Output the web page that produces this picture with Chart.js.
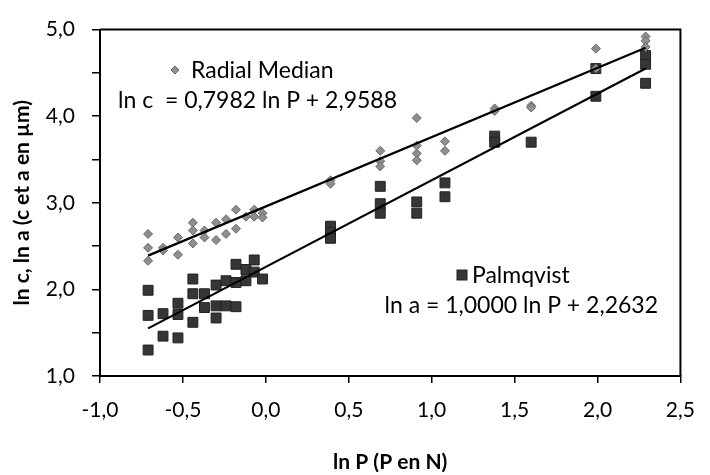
<!DOCTYPE html>
<html>
<head>
<meta charset="utf-8">
<script src="https://cdn.jsdelivr.net/npm/chart.js@4.4.0/dist/chart.umd.min.js"></script>
<style>
  html, body { margin: 0; padding: 0; background: #fff; }
  #wrap { width: 710px; height: 475px; }
</style>
</head>
<body>
<div id="wrap"><canvas id="chart" width="710" height="475"></canvas></div>
<script>
// ln P values (x) and ln c / ln a values (y)
const radialX = [-0.71, -0.71, -0.71, -0.62, -0.62, -0.53, -0.53, -0.44, -0.44, -0.44,
                 -0.37, -0.37, -0.30, -0.30, -0.24, -0.24, -0.18, -0.18, -0.12, -0.07, -0.07,
                 -0.02, -0.02, 0.39, 0.39, 0.69, 0.69, 0.69, 0.91, 0.91, 0.91, 0.91,
                 1.08, 1.08, 1.38, 1.38, 1.60, 1.60, 1.99, 1.99, 2.29, 2.29, 2.29];
const radialY = [2.64, 2.48, 2.33, 2.48, 2.45, 2.60, 2.40, 2.77, 2.68, 2.53,
                 2.68, 2.60, 2.77, 2.57, 2.81, 2.64, 2.92, 2.70, 2.84, 2.92, 2.84,
                 2.88, 2.83, 3.26, 3.22, 3.60, 3.48, 3.42, 3.98, 3.66, 3.57, 3.49,
                 3.71, 3.60, 4.09, 4.06, 4.12, 4.10, 4.78, 4.55, 4.92, 4.87, 4.80];

const palmX = [-0.71, -0.71, -0.71, -0.62, -0.62, -0.53, -0.53, -0.53, -0.44, -0.44, -0.44,
               -0.37, -0.37, -0.30, -0.30, -0.30, -0.24, -0.24, -0.18, -0.18, -0.18,
               -0.12, -0.12, -0.07, -0.07, -0.02, 0.39, 0.39, 0.39, 0.69, 0.69, 0.69,
               0.91, 0.91, 1.08, 1.08, 1.38, 1.38, 1.60, 1.99, 1.99, 2.29, 2.29, 2.29];
const palmY = [1.99, 1.70, 1.30, 1.72, 1.46, 1.84, 1.71, 1.44, 2.12, 1.95, 1.62,
               1.95, 1.79, 2.05, 1.81, 1.67, 2.10, 1.81, 2.29, 2.08, 1.80,
               2.23, 2.10, 2.34, 2.20, 2.12, 2.73, 2.66, 2.59, 3.19, 2.99, 2.88,
               3.01, 2.88, 3.23, 3.07, 3.77, 3.70, 3.70, 4.55, 4.23, 4.70, 4.60, 4.38];

// trend line end points
const radialLineX = [-0.71, 2.29];
const radialLineY = [2.39, 4.79];
const palmLineX = [-0.71, 2.29];
const palmLineY = [1.55, 4.55];

const radialLabel = 'Radial Median';
const radialEq = 'ln c  = 0,7982 ln P + 2,9588';
const palmLabel = 'Palmqvist';
const palmEq = 'ln a = 1,0000 ln P + 2,2632';

const FONT = 'Lato, "Open Sans", sans-serif';
const RADIAL_COLOR = '#8e8e8e';
const PALM_COLOR = '#363636';

function pts(xs, ys) {
    return xs.map((x, i) => ({ x: x, y: ys[i] }));
}

function fmt(v) {
    return v.toFixed(1).replace('.', ',');
}

// frame around the plot + in-plot legend and equations
const annotations = {
    id: 'annotations',
    afterDraw(chart) {
        const ctx = chart.ctx;
        const a = chart.chartArea;
        ctx.save();
        ctx.strokeStyle = '#000';
        ctx.lineWidth = 2;
        ctx.beginPath();
        ctx.moveTo(a.left, a.top);
        ctx.lineTo(a.right, a.top);
        ctx.lineTo(a.right, a.bottom);
        ctx.stroke();

        ctx.font = '23px ' + FONT;
        ctx.fillStyle = '#000';
        ctx.textBaseline = 'middle';

        // Radial legend
        ctx.save();
        ctx.fillStyle = RADIAL_COLOR;
        ctx.strokeStyle = '#666';
        ctx.lineWidth = 1;
        ctx.beginPath();
        ctx.moveTo(175, 66); ctx.lineTo(179, 70); ctx.lineTo(175, 74); ctx.lineTo(171, 70);
        ctx.closePath(); ctx.fill(); ctx.stroke();
        ctx.restore();
        ctx.textAlign = 'left';
        ctx.fillText(radialLabel, 191, 71);
        ctx.textAlign = 'right';
        ctx.fillText(radialEq, 397, 101);

        // Palmqvist legend
        ctx.save();
        ctx.fillStyle = PALM_COLOR;
        ctx.strokeStyle = '#222';
        ctx.lineWidth = 1;
        ctx.fillRect(457, 270, 10, 10);
        ctx.strokeRect(457, 270, 10, 10);
        ctx.restore();
        ctx.textAlign = 'left';
        ctx.fillText(palmLabel, 472, 276);
        ctx.textAlign = 'right';
        ctx.fillText(palmEq, 658, 306);
        ctx.restore();
    }
};

new Chart(document.getElementById('chart').getContext('2d'), {
    type: 'scatter',
    data: {
        datasets: [
            {
                label: radialLabel,
                data: pts(radialX, radialY),
                pointStyle: 'rectRot',
                pointRadius: 4.5,
                backgroundColor: RADIAL_COLOR,
                borderColor: '#6a6a6a',
                borderWidth: 1,
                order: 2
            },
            {
                label: palmLabel,
                data: pts(palmX, palmY),
                pointStyle: 'rect',
                pointRadius: 7,
                backgroundColor: PALM_COLOR,
                borderColor: '#222',
                borderWidth: 1,
                order: 3
            },
            {
                type: 'line',
                label: 'trend radial',
                data: pts(radialLineX, radialLineY),
                borderColor: '#000',
                borderWidth: 2.2,
                pointRadius: 0,
                fill: false,
                order: 1
            },
            {
                type: 'line',
                label: 'trend palm',
                data: pts(palmLineX, palmLineY),
                borderColor: '#000',
                borderWidth: 2.2,
                pointRadius: 0,
                fill: false,
                order: 1
            }
        ]
    },
    options: {
        responsive: false,
        animation: false,
        layout: { padding: { top: 16, right: 18, left: 0, bottom: 0 } },
        plugins: {
            legend: { display: false },
            tooltip: { enabled: false }
        },
        scales: {
            x: {
                type: 'linear',
                min: -1,
                max: 2.5,
                afterFit(scale) { scale.height = 99; },
                ticks: {
                    stepSize: 0.5,
                    color: '#000',
                    font: { family: FONT, size: 21 },
                    padding: 15,
                    callback: (v) => fmt(v)
                },
                grid: {
                    drawOnChartArea: false,
                    drawTicks: true,
                    tickLength: 7,
                    color: '#000',
                    lineWidth: 1.5
                },
                border: { color: '#000', width: 2 },
                title: {
                    display: true,
                    text: 'ln P (P en N)',
                    color: '#000',
                    font: { family: FONT, size: 21, weight: 'bold' },
                    padding: { top: 0, bottom: 0 }
                }
            },
            y: {
                min: 1,
                max: 5,
                afterFit(scale) { scale.width = 100; },
                ticks: {
                    stepSize: 0.5,
                    color: '#000',
                    font: { family: FONT, size: 21 },
                    padding: 17,
                    callback: (v) => (Math.abs(v - Math.round(v)) < 1e-9 ? fmt(v) : '')
                },
                grid: {
                    drawOnChartArea: false,
                    drawTicks: true,
                    tickLength: 8,
                    color: '#000',
                    lineWidth: 1.5
                },
                border: { color: '#000', width: 2 },
                title: {
                    display: true,
                    text: 'ln c, ln a (c et a en µm)',
                    color: '#000',
                    font: { family: FONT, size: 21, weight: 'bold' },
                    padding: { top: 10, bottom: 0 }
                }
            }
        }
    },
    plugins: [annotations]
});
</script>
</body>
</html>
